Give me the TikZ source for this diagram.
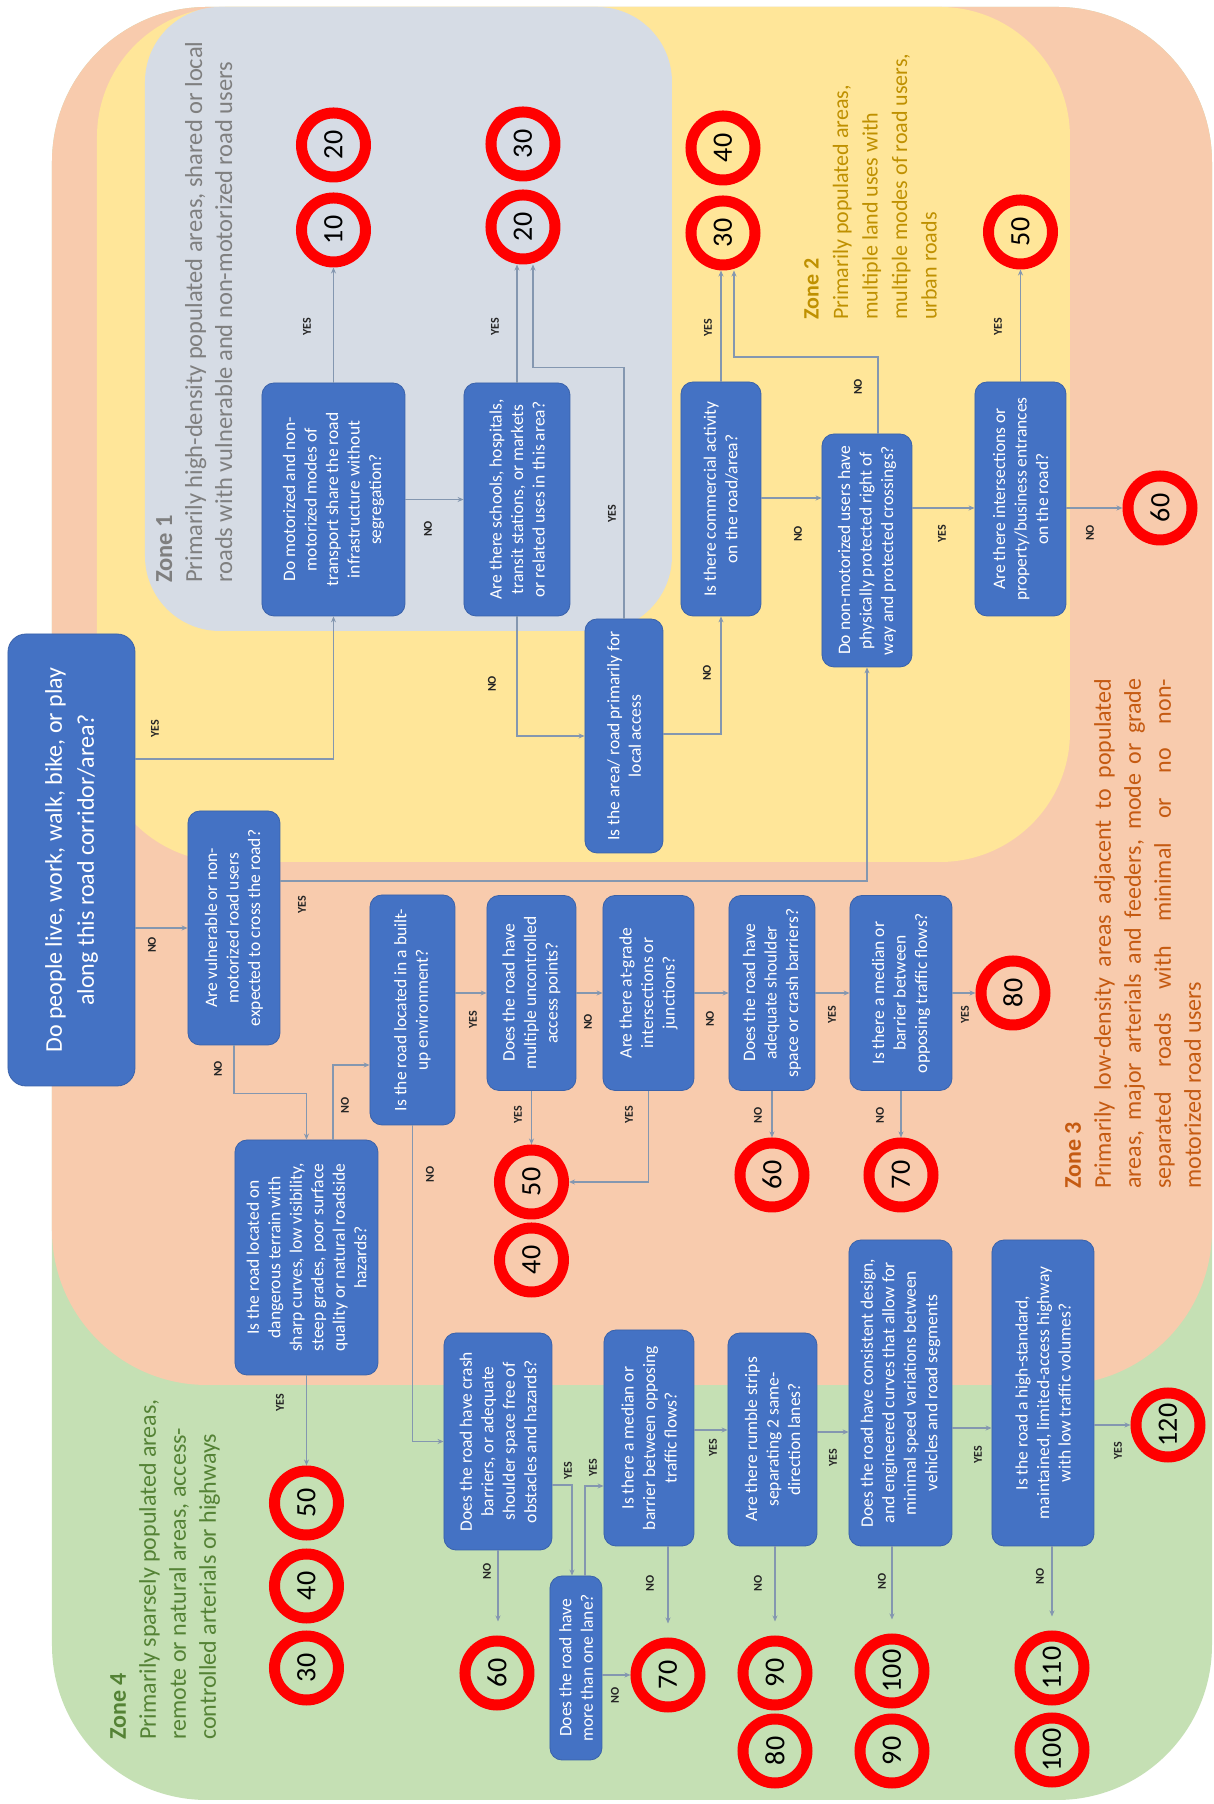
\documentclass[tikz,border=0pt]{standalone}
\usepackage{fontspec}
\setmainfont{Carlito}
\usetikzlibrary{arrows.meta}
\definecolor{zonegreen}{HTML}{C5E0B4}
\definecolor{zonepeach}{HTML}{F8CBAD}
\definecolor{zoneyellow}{HTML}{FFE699}
\definecolor{zonegrey}{HTML}{D6DCE5}
\definecolor{boxblue}{HTML}{4472C4}
\definecolor{boxedge}{HTML}{3A62AA}
\definecolor{signred}{HTML}{FF0000}
\definecolor{flowline}{HTML}{8497B0}
\definecolor{txtgrey}{HTML}{7F7F7F}
\definecolor{txtgold}{HTML}{BF9000}
\definecolor{txtorange}{HTML}{C55A11}
\definecolor{txtgreen}{HTML}{548235}
\tikzset{
  qbox/.style={rectangle, rounded corners=12pt, fill=boxblue, draw=boxedge, line width=0.8pt,
    text=white, align=center, inner sep=3pt, font=\fontsize{17.5}{21.5}\selectfont},
  speedsign/.style={circle, draw=signred, line width=11pt, minimum size=64pt, inner sep=0pt,
    text=black, font=\fontsize{28}{28}\selectfont},
  arr/.style={draw=flowline, line width=1.2pt, -{Stealth[length=6pt, width=5pt]}},
  stopshort/.style={shorten >=14pt},
  lbl/.style={inner sep=0pt, text=black!85, font=\fontsize{12}{12}\selectfont\bfseries},
  zonetxt/.style={anchor=north west, align=left, inner sep=0pt, font=\fontsize{24}{30}\selectfont}
}
\begin{document}
\begin{tikzpicture}[x=1pt, y=1pt]
  % the chart is laid out landscape and turned upright
  \begin{scope}[rotate=90, transform shape]
    \path[use as bounding box, fill=white] (0,0) rectangle (1804,1214);
    % zones
    \fill[zonegreen, rounded corners=155pt] (4,2) rectangle (1797,1162);
    \fill[zonepeach, rounded corners=155pt] (419,2) rectangle (1797,1162);
    \fill[zoneyellow, rounded corners=130pt] (942,144) rectangle (1797,1117);
    \fill[zonegrey, rounded corners=75pt] (1173,542) rectangle (1797,1069);
    \node[zonetxt, text=txtgrey, font=\fontsize{24.5}{30}\selectfont] (zone1) at (1221,1058)
      {\textbf{Zone 1}\\Primarily high-density populated areas, shared or local\\roads with vulnerable and non-motorized road users};
    \node[zonetxt, text=txtgold, font=\fontsize{22}{29.5}\selectfont] (zone2) at (1484,410)
      {\textbf{Zone 2}\\Primarily populated areas,\\multiple land uses with\\multiple modes of road users,\\urban roads};
    \node[zonetxt, text=txtorange, text width=510pt, align=justify] (zone3) at (615,149)
      {\textbf{Zone 3}\\Primarily low-density areas adjacent to populated\linebreak areas, major arterials and feeders, mode or grade\linebreak separated roads with minimal or no non-\linebreak motorized road users};
    \node[zonetxt, text=txtgreen] (zone4) at (64,1104)
      {\textbf{Zone 4}\\Primarily sparsely populated areas,\\remote or natural areas, access-\\controlled arterials or highways};
    % questions
    \node[qbox, rounded corners=18pt, minimum width=452pt, minimum height=127pt, font=\fontsize{24}{32}\selectfont]
      (start) at (944,1142.5) {Do people live, work, walk, bike, or play\\along this road corridor/area?};
    \node[qbox, minimum width=234pt, minimum height=92pt] (vuln) at (876,980)
      {Are vulnerable or non-\\motorized road users\\expected to cross the road?};
    \node[qbox, minimum width=230pt, minimum height=85pt] (builtup) at (794,801.5)
      {Is the road located in a built-\\up environment?};
    \node[qbox, minimum width=235pt, minimum height=143pt] (terrain) at (546.5,907.5)
      {Is the road located on\\dangerous terrain with\\sharp curves, low visibility,\\steep grades, poor surface\\quality or natural roadside\\hazards?};
    \node[qbox, minimum width=233pt, minimum height=143pt] (share) at (1304.5,880.5)
      {Do motorized and non-\\motorized modes of\\transport share the road\\infrastructure without\\segregation?};
    \node[qbox, minimum width=233pt, minimum height=106pt] (schools) at (1304.5,697)
      {Are there schools, hospitals,\\transit stations, or markets\\or related uses in this area?};
    \node[qbox, minimum width=234pt, minimum height=78pt] (local) at (1068,590)
      {Is the area/ road primarily for\\local access};
    \node[qbox, minimum width=234pt, minimum height=80pt] (commercial) at (1305,493)
      {Is there commercial activity\\on the road/area?};
    \node[qbox, minimum width=233pt, minimum height=90pt] (protected) at (1253.5,347)
      {Do non-motorized users have\\physically protected right of\\way and protected crossings?};
    \node[qbox, minimum width=234pt, minimum height=91pt] (entrances) at (1305,193.5)
      {Are there intersections or\\property/business entrances\\on the road?};
    \node[qbox, minimum width=195pt, minimum height=89pt] (access) at (811,682.5)
      {Does the road have\\multiple uncontrolled\\access points?};
    \node[qbox, minimum width=195pt, minimum height=91pt] (atgrade) at (811,565.5)
      {Are there at-grade\\intersections or\\junctions?};
    \node[qbox, minimum width=195pt, minimum height=86pt] (shoulder) at (811,442)
      {Does the road have\\adequate shoulder\\space or crash barriers?};
    \node[qbox, minimum width=195pt, minimum height=102pt] (barrier3) at (811,313)
      {Is there a median or\\barrier between\\opposing traffic flows?};
    \node[qbox, minimum width=217pt, minimum height=108pt] (crash) at (362.5,716)
      {Does the road have crash\\barriers, or adequate\\shoulder space free of\\obstacles and hazards?};
    \node[qbox, minimum width=184pt, minimum height=52pt] (lanes) at (136,638)
      {Does the road have\\more than one lane?};
    \node[qbox, minimum width=216pt, minimum height=90pt] (barrier4) at (366,565)
      {Is there a median or\\barrier between opposing\\traffic flows?};
    \node[qbox, minimum width=213pt, minimum height=89pt] (rumble) at (364.5,441.5)
      {Are there rumble strips\\separating 2 same-\\direction lanes?};
    \node[qbox, minimum width=306pt, minimum height=103pt] (design) at (411,313.5)
      {Does the road have consistent design,\\and engineered curves that allow for\\minimal speed variations between\\vehicles and road segments};
    \node[qbox, minimum width=306pt, minimum height=102pt] (highway) at (411,171)
      {Is the road a high-standard,\\maintained, limited-access highway\\with low traffic volumes?};
    % speed limits
    \node[speedsign] (s10) at (1574,880.5) {10};
    \node[speedsign] (s20) at (1659,880.5) {20};
    \node[speedsign] (s20b) at (1577,691) {20};
    \node[speedsign] (s30) at (1660,691) {30};
    \node[speedsign] (s30b) at (1571,491) {30};
    \node[speedsign] (s40) at (1656,491) {40};
    \node[speedsign] (s50) at (1572,193.5) {50};
    \node[speedsign] (s60) at (1296,54) {60};
    \node[speedsign] (s50b) at (622,682.5) {50};
    \node[speedsign] (s40b) at (544,682.5) {40};
    \node[speedsign] (s60b) at (629,442) {60};
    \node[speedsign] (s70) at (629,313) {70};
    \node[speedsign] (s80) at (811,201) {80};
    \node[speedsign] (s50c) at (301,907.5) {50};
    \node[speedsign] (s40c) at (218,907.5) {40};
    \node[speedsign] (s30c) at (136,907.5) {30};
    \node[speedsign] (s60c) at (131,717) {60};
    \node[speedsign] (s70b) at (129,546) {70};
    \node[speedsign] (s90) at (131,439) {90};
    \node[speedsign] (s80b) at (53,439) {80};
    \node[speedsign] (s100) at (133,322) {100};
    \node[speedsign] (s90b) at (53,322) {90};
    \node[speedsign] (s110) at (136,162) {110};
    \node[speedsign] (s100b) at (54,162) {100};
    \node[speedsign] (s120) at (379,46) {120};
    % flow
    \draw[arr] (start.south -| 1045,0) |- (share.west) node[lbl] (la) at (1075,1059) {YES};
    \draw[arr] (start.south -| vuln.north) -- (vuln.north) node[lbl] (lb) at (859,1062) {NO};
    \draw[arr] (vuln.south -| 923,0) |- (protected.west) node[lbl] (lc) at (899,912) {YES};
    \draw[arr] (vuln.west) -- ++(-48,0) |- (terrain.east) node[lbl] (ld) at (735,996) {NO};
    \draw[arr] (terrain.east |- 0,881) -| (builtup.north -| 739,0) node[lbl] (le) at (699,869) {NO};
    \draw[arr] (terrain.west) -- (s50c.east) node[lbl] (lf) at (401,934) {YES};
    \draw[arr] (builtup.south -| access.north) -- (access.north) node[lbl] (lg) at (784,741) {YES};
    \draw[arr] (builtup.west) -| (crash.north) node[lbl] (lh) at (630,784) {NO};
    \draw[arr] (access.west) -- (s50b.east) node[lbl] (li) at (689,696) {YES};
    \draw[arr] (access.south) -- (atgrade.north) node[lbl] (lj) at (782,626) {NO};
    \draw[arr] (atgrade.west) -| (s50b.south) node[lbl] (lk) at (689,585) {YES};
    \draw[arr] (atgrade.south) -- (shoulder.north) node[lbl] (ll) at (785,504) {NO};
    \draw[arr] (shoulder.west) -- (s60b.east) node[lbl] (lm) at (689,456) {NO};
    \draw[arr] (shoulder.south) -- (barrier3.north) node[lbl] (ln) at (789,382) {YES};
    \draw[arr] (barrier3.west) -- (s70.east) node[lbl] (lo) at (689,334) {NO};
    \draw[arr] (barrier3.south) -- (s80.north) node[lbl] (lp) at (789,249) {YES};
    \draw[arr] (share.east) -- (share.east -| s10.west) node[lbl] (lq) at (1477,907) {YES};
    \draw[arr] (share.south) -- (schools.north) node[lbl] (lr) at (1275,786) {NO};
    \draw[arr] (schools.east) -- (schools.east -| s20b.west) node[lbl] (ls) at (1477,719) {YES};
    \draw[arr] (schools.west) -| (local.north) node[lbl] (lt) at (1120,722) {NO};
    \draw[arr] (local.east) -- ++(251,0) |- (s20b.west |- 0,681) node[lbl] (lu) at (1290,602) {YES};
    \draw[arr] (local.south -| 1070,0) |- (commercial.west) node[lbl] (lv) at (1131,507) {NO};
    \draw[arr] (commercial.east) -- (commercial.east -| s30b.west) node[lbl] (lw) at (1476,506) {YES};
    \draw[arr] (commercial.south -| 1306,0) -- (protected.north -| 1306,0) node[lbl] (lx) at (1270,416) {NO};
    \draw[arr] (protected.east |- 0,336) -- (1447,336) |- (s30b.west |- 0,480) node[lbl] (ly) at (1417,356) {NO};
    \draw[arr] (protected.south -| s60) -- (entrances.north -| s60) node[lbl] (lz) at (1270,272) {YES};
    \draw[arr] (entrances.east) -- (entrances.east -| s50.west) node[lbl] (laa) at (1477,216) {YES};
    \draw[arr] (entrances.south -| s60) -- (s60.north) node[lbl] (lbb) at (1271,124) {NO};
    \draw[arr, stopshort] (crash.west) -- (crash.west -| s60c.east) node[lbl] (lcc) at (233,727) {NO};
    \draw[arr] (crash.south -| 319,0) |- (lanes.east |- 0,642) node[lbl] (ldd) at (333,646) {YES};
    \draw[arr] (lanes.east |- 0,629) -| (barrier4.north -| 318,0) node[lbl] (lee) at (336,621) {YES};
    \draw[arr] (lanes.south -| s70b) -- (s70b.north) node[lbl] (lff) at (109,599) {NO};
    \draw[arr, stopshort] (barrier4.west |- s70b) -- (s70b.east) node[lbl] (lgg) at (221,564) {NO};
    \draw[arr] (barrier4.south -| 374,0) -- (rumble.north -| 374,0) node[lbl] (lhh) at (356,501) {YES};
    \draw[arr, stopshort] (rumble.west |- s90) -- (s90.east) node[lbl] (lii) at (221,456) {NO};
    \draw[arr] (rumble.south -| 372,0) -- (design.north -| 372,0) node[lbl] (ljj) at (346,381) {YES};
    \draw[arr, stopshort] (design.west |- s100) -- (s100.east) node[lbl] (lkk) at (223,332) {NO};
    \draw[arr] (design.south -| 376,0) -- (highway.north -| 376,0) node[lbl] (lll) at (349,236) {YES};
    \draw[arr, stopshort] (highway.west |- s110) -- (s110.east) node[lbl] (lmm) at (228,174) {NO};
    \draw[arr] (highway.south -| s120) -- (s120.north) node[lbl] (lnn) at (353,96) {YES};
  \end{scope}
\end{tikzpicture}
\end{document}
